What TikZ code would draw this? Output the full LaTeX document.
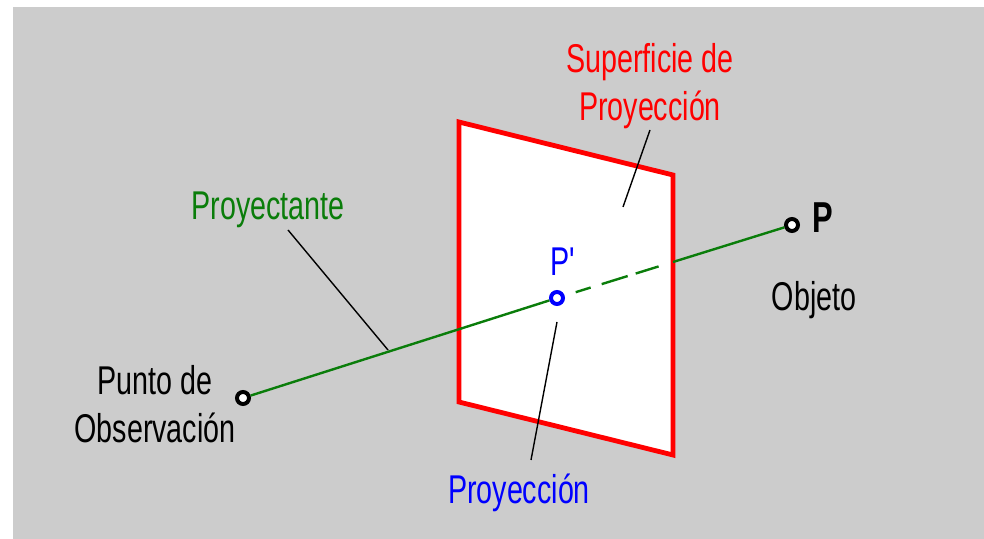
\documentclass[tikz,border=0pt]{standalone}
\usepackage{fontspec}
\setmainfont{Liberation Sans}
\newfontfamily\recta{Liberation Sans}
\usepackage{xcolor}
\definecolor{fondo}{RGB}{204,204,204}
\definecolor{verde}{RGB}{10,125,10}
\newcommand{\alto}[1]{\scalebox{1}[1.4]{#1}}
\tikzset{
  etiqueta/.style={font=\fontsize{20.4}{34.5}\selectfont,align=center,inner sep=0pt},
  anillo/.style={circle,draw=black,line width=1mm,fill=white,minimum size=3mm,inner sep=0pt},
  guia/.style={black,line width=.35mm},
  rayo/.style={verde,line width=.6mm}
}
\begin{document}
\begin{tikzpicture}[x=.25mm,y=.25mm]
  \useasboundingbox (0,0) rectangle (984,539);
  \fill[fondo] (13,0) rectangle (984,532);
  % plano
  \coordinate (a) at (459,417);
  \coordinate (b) at (673,364);
  \coordinate (c) at (673,84);
  \coordinate (d) at (459,137);
  \draw[red,fill=white,line width=1.2mm] (a) -- (b) -- (c) -- (d) -- cycle;
  % puntos
  \node[anillo] (obs) at (243,141){};
  \node[anillo,draw=blue] (pp) at (557,241){};
  \node[anillo] (p) at (792,314){};
  \coordinate (r1) at (660,273);
  \coordinate (r2) at (673,277);
  \draw[rayo] (obs) -- (pp);
  \draw[rayo,dash pattern=on 0mm off 2.9mm on 3.9mm off 2.9mm on 6.8mm off 2.1mm on 6mm off 5mm] (pp) -- (r1);
  \draw[rayo] (r2) -- (p);
  % textos
  \node[etiqueta,red] (sup) at (650,453){\alto{Superficie de}\\\alto{Proyección}};
  \node[etiqueta,verde] (proy) at (268,329){\alto{Proyectante}};
  \node[etiqueta,blue] (pt) at (563,277){\alto{\recta P'}};
  \node[etiqueta,blue] (pn) at (519,46){\alto{Proyección}};
  \node[etiqueta] (ob) at (155,135){\alto{Punto de}\\\alto{Observación}};
  \node[etiqueta] (obj) at (814,239){\alto{Objeto}};
  \node[etiqueta,font=\fontsize{22}{26}\selectfont\bfseries] (pl) at (823,321){\alto{P}};
  % guias
  \coordinate (g1) at (288,309);
  \coordinate (g2) at (388,189);
  \coordinate (g3) at (650,409);
  \coordinate (g4) at (623,332);
  \coordinate (g5) at (557,217);
  \coordinate (g6) at (531,79);
  \draw[guia] (g1) -- (g2);
  \draw[guia] (g3) -- (g4);
  \draw[guia] (g5) -- (g6);
\end{tikzpicture}
\end{document}
